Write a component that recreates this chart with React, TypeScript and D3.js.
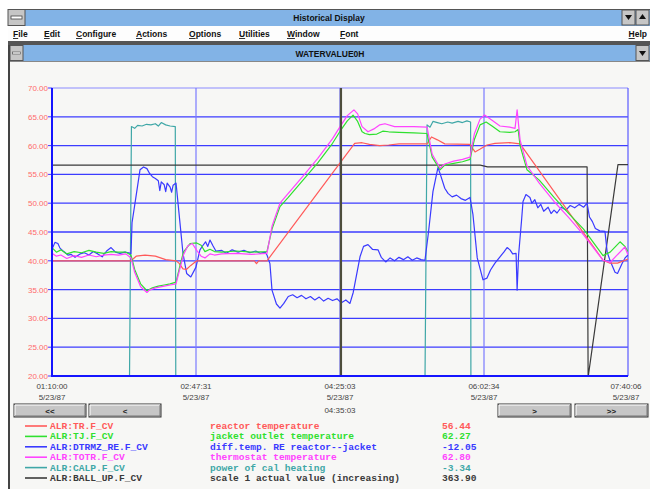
import React from "react";
import * as d3 from "d3";

// ---------- data ----------
const START_SEC = 1 * 3600 + 10 * 60; // 01:10:00
const END_SEC = 7 * 3600 + 40 * 60 + 6; // 07:40:06
const DATE_LABEL = "5/23/87";
const CURSOR_LABEL = "04:35:03";
const CURSOR_MIN = 195.7;
const Y_TICKS = [20, 25, 30, 35, 40, 45, 50, 55, 60, 65, 70];

const MENU_ITEMS = ["File", "Edit", "Configure", "Actions", "Options", "Utilities", "Window", "Font"];
const HELP_ITEM = "Help";
const APP_TITLE = "Historical Display";
const WIN_TITLE = "WATERVALUE0H";

// [minutes after start, value]
const reactorTemp: [number, number][] = [
  [0, 40.0], [53.5, 40.0], [57, 40.8], [63, 41.0], [70, 40.8], [77, 40.2], [84, 40.0], [86, 39.6],
  [88.7, 38.6], [91, 38.5], [94, 39.2], [98, 40.0], [120, 40.0], [137, 40.0], [138.5, 39.5], [140, 40.0],
  [145.6, 40.0], [195.1, 57.0], [205, 60.4], [210, 60.5], [215, 60.2], [222, 60.0], [228, 60.1],
  [235, 60.3], [245, 60.3], [254, 60.3], [257, 61.5], [261, 61.0], [266, 60.3], [283, 60.2],
  [286.5, 58.9], [290, 59.4], [294.6, 60.1], [300, 60.4], [310, 60.5], [317, 60.3], [373.2, 40.1],
  [377.9, 39.6], [383, 39.6], [390.1, 40.3],
];

const jacketTemp: [number, number][] = [
  [0, 42.3], [3, 41.5], [6, 41.9], [10, 41.2], [15, 41.6], [20, 41.4], [25, 41.8], [30, 41.5],
  [35, 41.3], [40, 41.6], [45, 41.5], [50, 41.5], [53.5, 41.0], [56, 38.5], [60, 36.0], [64.3, 34.8],
  [68, 35.3], [72, 35.6], [76, 35.8], [80, 36.0], [84, 36.3], [86.5, 39.0], [89, 41.5], [93.5, 43.0],
  [98, 43.1], [101, 42.7], [103.6, 41.6], [107, 42.0], [110, 41.6], [115, 41.5], [125, 41.7],
  [135, 41.5], [145.6, 41.6], [149, 45.5], [154.4, 49.4], [160, 51.0], [170, 54.0], [180, 57.0],
  [190, 60.4], [195.1, 62.5], [200, 64.3], [203.9, 65.3], [207, 64.2], [210, 62.4], [212, 62.1],
  [215, 61.9], [220, 62.0], [224, 62.5], [228, 62.4], [235, 62.3], [245, 62.2], [254, 62.1],
  [257.5, 58.0], [262.8, 55.8], [266, 56.6], [272, 56.9], [278, 57.2], [283.1, 57.6], [286, 61.0],
  [289.9, 63.6], [294, 64.1], [298, 63.4], [303.4, 62.4], [310, 62.3], [313.6, 62.4], [315.7, 62.8],
  [317, 60.0], [321.7, 55.8], [330, 54.0], [340, 51.0], [350, 48.2], [360, 45.5], [373.2, 40.9],
  [378, 41.5], [384.7, 43.3], [388, 42.5], [390.1, 41.6],
];

const diffTemp: [number, number][] = [
  [0, 42.0], [2, 43.2], [4, 43.0], [5.4, 42.2], [8, 41.6], [10.8, 41.0], [13, 41.1], [15.6, 40.6],
  [19, 41.2], [22, 41.4], [25, 41.0], [28, 41.6], [31, 41.2], [34, 40.7], [37, 41.7], [40, 42.3],
  [43, 41.5], [46, 41.3], [49.4, 41.5], [52, 41.4], [53.5, 41.2], [54.2, 46.6], [56.5, 50.5],
  [59.6, 55.8], [62, 56.3], [64.3, 56.0], [66, 55.2], [68, 54.6], [70, 54.3], [72, 53.9], [73, 52.2],
  [74, 53.7], [76, 53.2], [77, 52.0], [78, 53.5], [80, 52.8], [81, 51.9], [82, 53.1], [84, 53.5],
  [86.7, 46.5], [88.7, 41.3], [91.2, 37.8], [94, 37.2], [97.5, 38.9], [100.2, 41.9], [102.3, 42.7],
  [104, 43.3], [105.5, 42.5], [107, 43.6], [109, 42.6], [111, 41.7], [115, 41.8], [118, 41.3],
  [122, 41.9], [126, 41.5], [130, 41.8], [134, 41.4], [138, 41.7], [141, 41.3], [144.3, 41.5],
  [145.6, 41.0], [147.6, 39.5], [149, 34.9], [152, 32.5], [154.4, 31.8], [157, 32.6], [160, 33.8],
  [163, 34.1], [166, 33.6], [169, 34.0], [172, 33.4], [175, 33.8], [178, 33.2], [181, 33.7],
  [184, 33.0], [187, 33.5], [190, 33.1], [193, 33.4], [196, 32.7], [199, 33.2], [201.8, 32.6],
  [204, 34.5], [208.6, 40.7], [211, 42.5], [214, 42.8], [217, 42.0], [220.8, 41.9], [223, 40.6],
  [226, 39.8], [229, 40.5], [232, 40.0], [235, 40.6], [238, 40.2], [241, 40.7], [244, 40.1],
  [247, 40.5], [250, 40.2], [252.6, 40.1], [255, 45.0], [258, 52.0], [261.4, 56.2], [263, 55.0],
  [266, 52.6], [268.2, 51.7], [271, 51.1], [274, 51.4], [277, 50.8], [280, 50.5], [283.1, 51.0],
  [285.1, 48.0], [288, 40.5], [291.9, 36.7], [294.6, 37.0], [297, 38.4], [300, 39.6], [303.4, 40.7],
  [306, 41.5], [308.2, 42.3], [310.2, 41.9], [312, 41.2], [314.3, 41.3], [315.0, 34.9], [316.0, 41.0],
  [318, 47.0], [319, 50.3], [321, 51.5], [323.7, 51.0], [325, 50.0], [327, 50.6], [329, 49.2],
  [331, 49.8], [333, 48.6], [336, 49.3], [338, 48.2], [340, 48.8], [342, 48.3], [345, 49.3],
  [348, 48.8], [351, 49.6], [354, 49.2], [357, 49.8], [360, 49.3], [362.4, 50.0], [364, 47.6],
  [366, 46.8], [368, 45.6], [371, 45.2], [374.5, 45.1], [376, 41.5], [378, 40.0], [381.3, 38.0],
  [383, 37.8], [386, 39.5], [388.1, 40.5], [390.1, 41.0],
];

const thermostatTemp: [number, number][] = [
  [0, 41.3], [3, 40.8], [6, 41.0], [10, 40.4], [15, 40.9], [20, 40.6], [25, 41.0], [30, 40.7],
  [35, 41.0], [40, 41.1], [45, 41.0], [50, 41.2], [53.5, 40.5], [56, 38.0], [60, 35.5], [64.3, 34.5],
  [66, 34.9], [70, 35.3], [76, 35.6], [80, 35.8], [84, 36.0], [86.5, 38.5], [89, 41.0], [92, 42.6],
  [95, 43.0], [98, 41.8], [101, 40.8], [103.6, 40.5], [107, 41.2], [110, 41.0], [115, 41.2],
  [125, 41.3], [135, 41.1], [145.6, 41.3], [149, 46.0], [154.4, 50.0], [160, 51.7], [170, 54.7],
  [180, 57.8], [190, 61.2], [195.1, 63.3], [200, 65.2], [204.5, 66.2], [207, 65.5], [210, 63.3],
  [214, 62.4], [218, 62.9], [222, 63.6], [225.5, 63.8], [232, 63.3], [245, 63.3], [254, 63.2],
  [257.5, 58.5], [262.8, 56.1], [266, 56.8], [272, 57.3], [278, 57.6], [283.1, 58.0], [286, 62.0],
  [289.9, 64.6], [293, 65.3], [298, 64.4], [303.4, 63.4], [310, 63.2], [313.6, 63.0], [315.0, 66.2],
  [317, 61.0], [321.7, 56.5], [330, 53.5], [340, 50.3], [350, 47.5], [360, 44.5], [373.2, 40.1],
  [377.9, 39.7], [382, 40.8], [388, 42.4], [390.1, 41.0],
];

const calPower: [number, number][] = [
  [0, -3.3], [51.8, -3.3], [53.8, 63.3], [56, 63.0], [58, 63.5], [61, 63.4], [64, 63.7], [67, 63.6],
  [70, 63.8], [72, 63.4], [74, 64.0], [77, 63.6], [80, 63.4], [83.5, 63.3], [84.0, -3.3],
  [251.9, -3.3], [254, 63.6], [256, 63.2], [258, 64.2], [261, 64.0], [264, 63.8], [268, 64.1],
  [271, 63.9], [275, 64.2], [278, 64.0], [281, 64.3], [283.5, 64.1], [283.8, -3.3], [390.1, -3.3],
];

const ballUp: [number, number][] = [
  [0, 56.6], [290, 56.6], [295, 56.3], [362.4, 56.3], [363.1, 19.8], [383.3, 56.7], [390.1, 56.7],
];

const legendTags = ["ALR:TR.F_CV", "ALR:TJ.F_CV", "ALR:DTRMZ_RE.F_CV", "ALR:TOTR.F_CV", "ALR:CALP.F_CV", "ALR:BALL_UP.F_CV"];
const legendDescs = [
  "reactor temperature",
  "jacket outlet temperature",
  "diff.temp. RE reactor--jacket",
  "thermostat temperature",
  "power of cal heating",
  "scale 1 actual value (increasing)",
];
const legendValues = ["56.44", "62.27", "-12.05", "62.80", "-3.34", "363.90"];
const seriesColors = ["#ff5a5a", "#2fe02f", "#3a3aff", "#ff44ff", "#3fa7a7", "#3a3a3a"];
const seriesData = [reactorTemp, jacketTemp, diffTemp, thermostatTemp, calPower, ballUp];
const drawOrder = [4, 5, 2, 0, 1, 3];

// ---------- helpers ----------
const pad = (n: number) => String(n).padStart(2, "0");
const fmtTime = (sec: number) => {
  const s = Math.floor(sec);
  return `${pad(Math.floor(s / 3600))}:${pad(Math.floor((s % 3600) / 60))}:${pad(s % 60)}`;
};

const TITLE_BLUE = "#82b3e6";
const FACE = "#c6c6c6";
const BG = "#f7f7f5";

function Btn({ x, y, w, h, label }: { x: number; y: number; w: number; h: number; label: string }) {
  return (
    <g>
      <rect x={x} y={y} width={w} height={h} fill={FACE} stroke="#333" strokeWidth={1} />
      <line x1={x + 1} y1={y + 1} x2={x + w - 1} y2={y + 1} stroke="#fff" />
      <line x1={x + 1} y1={y + 1} x2={x + 1} y2={y + h - 1} stroke="#fff" />
      <line x1={x + 1} y1={y + h - 1} x2={x + w - 1} y2={y + h - 1} stroke="#777" />
      <line x1={x + w - 1} y1={y + 1} x2={x + w - 1} y2={y + h - 1} stroke="#777" />
      <text x={x + w / 2} y={y + h / 2 + 3} textAnchor="middle" fontSize={8} fontWeight="bold"
        fontFamily="Liberation Sans, Arial, sans-serif" fill="#222">{label}</text>
    </g>
  );
}

export default function App() {
  const W = 650, H = 489;
  const PX0 = 52, PX1 = 628, PY0 = 88, PY1 = 376;
  const totalMin = (END_SEC - START_SEC) / 60;
  const x = d3.scaleLinear().domain([0, totalMin]).range([PX0, PX1]);
  const y = d3.scaleLinear().domain([20, 70]).range([PY1, PY0]);
  const line = d3.line<[number, number]>().x((d) => x(d[0])).y((d) => y(d[1]));
  const tickMins = d3.range(5).map((i) => (i * totalMin) / 4);

  const menuX = [13, 44, 76, 136, 189, 239, 287, 340];
  const uiFont = "Liberation Sans, Arial, sans-serif";
  const monoFont = "Liberation Mono, DejaVu Sans Mono, monospace";

  return (
    <svg width={W} height={H} style={{ position: "absolute", left: 0, top: 0, background: "#fff" }}>
      <defs>
        <clipPath id="plotclip">
          <rect x={PX0} y={PY0} width={PX1 - PX0} height={PY1 - PY0} />
        </clipPath>
      </defs>
      {/* main window */}
      <rect x={8} y={9} width={642} height={480} fill={BG} />
      <rect x={8} y={9} width={642} height={17} fill={TITLE_BLUE} />
      <line x1={8} y1={9.5} x2={650} y2={9.5} stroke="#555" />
      <rect x={8} y={9.5} width={17} height={16} fill={FACE} stroke="#555" />
      <rect x={11} y={16} width={11} height={3} fill="#fff" stroke="#444" strokeWidth={0.8} />
      <text x={329} y={21} textAnchor="middle" fontSize={8.5} fontWeight="bold" fontFamily={uiFont} fill="#111">{APP_TITLE}</text>
      <rect x={622} y={10} width={13} height={15} fill={FACE} stroke="#555" />
      <path d="M625,15 L632,15 L628.5,20 Z" fill="#111" />
      <rect x={636} y={10} width={13} height={15} fill={FACE} stroke="#555" />
      <path d="M639,19 L646,19 L642.5,14 Z" fill="#111" />
      {/* menu */}
      <rect x={8} y={26} width={642} height={15} fill="#fdfdfd" />
      {MENU_ITEMS.map((m, i) => (
        <text key={m} x={menuX[i]} y={37} fontSize={8.5} fontWeight="bold" fontFamily={uiFont} fill="#111">
          <tspan textDecoration="underline">{m[0]}</tspan>{m.slice(1)}
        </text>
      ))}
      <text x={647} y={37} textAnchor="end" fontSize={8.5} fontWeight="bold" fontFamily={uiFont} fill="#111">
        <tspan textDecoration="underline">{HELP_ITEM[0]}</tspan>{HELP_ITEM.slice(1)}
      </text>
      <rect x={8} y={41} width={642} height={4} fill="#555" />
      {/* child window title */}
      <rect x={10} y={45} width={640} height={16} fill={TITLE_BLUE} />
      <rect x={10} y={45.5} width={13} height={15} fill={FACE} stroke="#555" />
      <rect x={12.5} y={52} width={8} height={2} fill="#fff" stroke="#444" strokeWidth={0.6} />
      <rect x={636} y={45.5} width={13} height={15} fill={FACE} stroke="#555" />
      <path d="M639,51 L646,51 L642.5,56 Z" fill="#111" />
      <text x={330} y={56.5} textAnchor="middle" fontSize={8.5} fontWeight="bold" fontFamily={uiFont} fill="#111">{WIN_TITLE}</text>
      <line x1={9} y1={45} x2={9} y2={489} stroke="#444" strokeWidth={2} />
      <line x1={10} y1={61.5} x2={650} y2={61.5} stroke="#888" />

      {/* plot grid */}
      {Y_TICKS.map((v) => (
        <g key={v}>
          {v > 20 && v < 70 && (
            <line x1={PX0} x2={PX1} y1={y(v)} y2={y(v)} stroke="#3c3cff" strokeWidth={1.3} />
          )}
          <line x1={PX0 - 4} x2={PX0} y1={y(v)} y2={y(v)} stroke="#3c3cff" strokeWidth={1} />
          <text x={48} y={y(v) + 3} textAnchor="end" fontSize={8} fontFamily={uiFont} fill="#ff6a6a">{v.toFixed(2)}</text>
        </g>
      ))}
      <line x1={PX0} x2={PX1} y1={PY0} y2={PY0} stroke="#8c8cff" strokeWidth={1.2} />
      {[1, 3].map((i) => (
        <line key={i} x1={x(tickMins[i])} x2={x(tickMins[i])} y1={PY0} y2={PY1} stroke="#7a7aff" strokeWidth={1.2} />
      ))}
      <line x1={x(tickMins[2])} x2={x(tickMins[2])} y1={PY0} y2={PY1} stroke="#7a7aff" strokeWidth={1.2} />
      <line x1={PX1} x2={PX1} y1={PY0} y2={PY1} stroke="#5a5aff" strokeWidth={1.2} />

      {/* series */}
      <g clipPath="url(#plotclip)">
        {drawOrder.map((i) => (
          <path key={i} d={line(seriesData[i]) || ""} fill="none" stroke={seriesColors[i]} strokeWidth={1.2}
            strokeLinejoin="round" />
        ))}
      </g>
      {/* cursor */}
      <line x1={x(CURSOR_MIN)} x2={x(CURSOR_MIN)} y1={PY0} y2={PY1} stroke="#4d4d3c" strokeWidth={2.2} />
      {/* axis borders */}
      <line x1={PX0} x2={PX0} y1={PY0} y2={PY1 + 1} stroke="#1515ff" strokeWidth={2} />
      <line x1={PX0} x2={PX1} y1={PY1} y2={PY1} stroke="#1515ff" strokeWidth={2} />

      {/* time labels */}
      {tickMins.map((m, i) => {
        const cx = Math.min(626, Math.max(48, x(m)));
        return (
          <g key={i}>
            <text x={cx} y={389} textAnchor="middle" fontSize={8} fontFamily={uiFont} fill="#444">{fmtTime(START_SEC + m * 60)}</text>
            <text x={cx} y={400} textAnchor="middle" fontSize={8} fontFamily={uiFont} fill="#444">{DATE_LABEL}</text>
          </g>
        );
      })}
      <text x={x(tickMins[2])} y={413} textAnchor="middle" fontSize={8} fontFamily={uiFont} fill="#444">{CURSOR_LABEL}</text>

      {/* buttons */}
      <Btn x={14} y={404} w={72} h={13} label="<<" />
      <Btn x={89} y={404} w={72} h={13} label="<" />
      <Btn x={498} y={404} w={73} h={13} label=">" />
      <Btn x={575} y={404} w={73} h={13} label=">>" />

      {/* legend */}
      {legendTags.map((tag, i) => {
        const ry = 426 + i * 10.4;
        return (
          <g key={tag}>
            <line x1={25} x2={47} y1={ry} y2={ry} stroke={seriesColors[i]} strokeWidth={1.6} />
            <text x={50} y={ry + 3} fontSize={9.6} fontWeight="bold" fontFamily={monoFont} fill={seriesColors[i]}>{tag}</text>
            <text x={210} y={ry + 3} fontSize={9.6} fontWeight="bold" fontFamily={monoFont} fill={seriesColors[i]}>{legendDescs[i]}</text>
            <text x={442} y={ry + 3} fontSize={9.6} fontWeight="bold" fontFamily={monoFont} fill={seriesColors[i]}>{legendValues[i]}</text>
          </g>
        );
      })}
    </svg>
  );
}
